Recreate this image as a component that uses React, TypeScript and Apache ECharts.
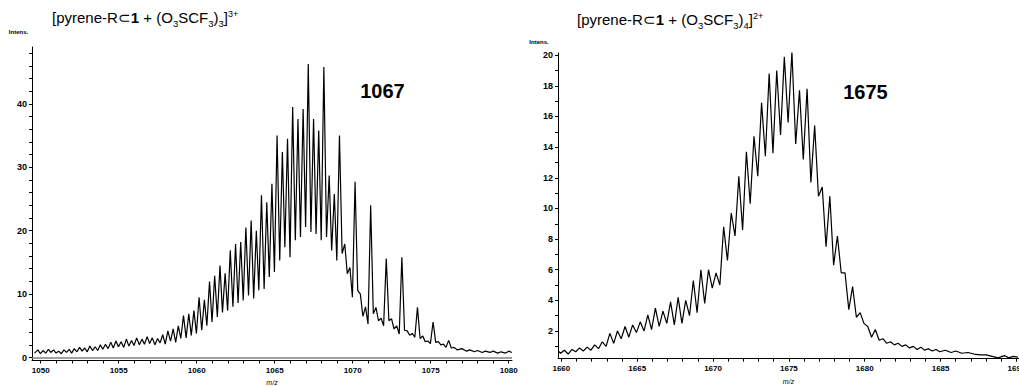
import React, { useEffect, useRef } from 'react';
import * as echarts from 'echarts';

// [m/z, intensity] (3+ ion)
const leftSpectrum: [number, number][] = [
  [1049.6, 0.7], [1049.82, 1.2], [1049.98, 0.6], [1050.15, 1.1], [1050.32, 0.7], [1050.49, 1.3], [1050.65, 0.8],
  [1050.82, 1.2], [1050.98, 0.7], [1051.15, 1.0], [1051.32, 0.6], [1051.49, 1.2], [1051.65, 0.8], [1051.82, 1.3],
  [1051.98, 0.7], [1052.15, 1.4], [1052.32, 0.9], [1052.49, 1.6], [1052.65, 1.0], [1052.82, 1.5], [1052.98, 0.9],
  [1053.15, 1.8], [1053.32, 1.1], [1053.49, 1.7], [1053.65, 1.1], [1053.82, 2.0], [1053.98, 1.3], [1054.15, 2.1],
  [1054.32, 1.4], [1054.49, 2.4], [1054.65, 1.5], [1054.82, 2.6], [1054.98, 1.7], [1055.15, 2.5], [1055.32, 1.6],
  [1055.49, 2.9], [1055.65, 1.8], [1055.82, 2.7], [1055.98, 1.9], [1056.15, 3.1], [1056.32, 2.0], [1056.49, 2.9],
  [1056.65, 2.1], [1056.82, 3.3], [1056.98, 2.2], [1057.15, 3.1], [1057.32, 2.0], [1057.49, 3.0], [1057.65, 2.3],
  [1057.82, 3.6], [1057.98, 2.1], [1058.15, 4.2], [1058.32, 2.6], [1058.49, 4.5], [1058.65, 2.4], [1058.82, 5.0],
  [1058.98, 3.0], [1059.15, 6.6], [1059.32, 3.1], [1059.49, 6.9], [1059.65, 3.5], [1059.82, 7.4], [1059.98, 3.8],
  [1060.15, 9.5], [1060.32, 4.3], [1060.49, 9.1], [1060.65, 5.0], [1060.82, 12.0], [1060.98, 5.6], [1061.15, 12.9],
  [1061.32, 6.4], [1061.49, 14.5], [1061.65, 7.1], [1061.82, 13.3], [1061.98, 7.4], [1062.15, 16.9], [1062.32, 8.0],
  [1062.49, 17.9], [1062.65, 8.6], [1062.82, 18.2], [1062.98, 9.0], [1063.15, 20.5], [1063.32, 9.8], [1063.49, 21.6],
  [1063.65, 9.3], [1063.82, 20.0], [1063.98, 10.6], [1064.15, 25.6], [1064.32, 10.8], [1064.49, 24.5], [1064.65, 12.7],
  [1064.82, 27.4], [1064.98, 13.5], [1065.15, 35.0], [1065.32, 15.3], [1065.49, 32.4], [1065.65, 17.4], [1065.82, 34.5],
  [1065.98, 15.8], [1066.15, 39.5], [1066.32, 18.5], [1066.49, 37.6], [1066.65, 19.0], [1066.82, 39.2], [1066.98, 20.6],
  [1067.15, 46.3], [1067.32, 19.8], [1067.49, 37.6], [1067.65, 19.5], [1067.82, 35.8], [1067.98, 18.5], [1068.15, 45.8],
  [1068.32, 19.0], [1068.49, 28.7], [1068.65, 16.9], [1068.82, 25.8], [1068.98, 15.3], [1069.15, 35.0], [1069.32, 16.4],
  [1069.49, 17.9], [1069.65, 13.2], [1069.82, 14.2], [1069.98, 9.5], [1070.15, 27.7], [1070.32, 10.6], [1070.49, 10.0],
  [1070.65, 6.5], [1070.82, 8.0], [1070.98, 5.3], [1071.15, 24.0], [1071.32, 6.9], [1071.49, 7.9], [1071.65, 5.8],
  [1071.82, 6.2], [1071.98, 5.0], [1072.15, 15.6], [1072.32, 5.8], [1072.49, 6.1], [1072.65, 4.5], [1072.82, 5.0],
  [1072.98, 3.7], [1073.15, 15.8], [1073.32, 4.3], [1073.49, 4.2], [1073.65, 3.5], [1073.82, 3.8], [1073.98, 3.2],
  [1074.15, 7.9], [1074.32, 3.0], [1074.49, 3.4], [1074.65, 2.5], [1074.82, 2.6], [1074.98, 2.2], [1075.15, 5.6],
  [1075.32, 2.4], [1075.49, 2.5], [1075.65, 2.0], [1075.82, 2.1], [1075.98, 1.6], [1076.15, 2.7], [1076.32, 1.5],
  [1076.5, 1.6], [1076.7, 1.2], [1077.0, 1.4], [1077.3, 1.0], [1077.5, 1.2], [1077.8, 0.9], [1078.0, 1.1],
  [1078.3, 0.8], [1078.5, 1.0], [1078.8, 0.8], [1079.0, 1.0], [1079.3, 0.7], [1079.5, 0.9], [1079.8, 0.7],
  [1080.0, 1.0], [1080.2, 0.8],
];

// [m/z, intensity] (2+ ion)
const rightSpectrum: [number, number][] = [
  [1659.8, 0.7], [1659.95, 0.55], [1660.2, 0.75], [1660.45, 0.5], [1660.7, 0.8], [1660.95, 0.65], [1661.2, 0.9],
  [1661.45, 0.7], [1661.7, 0.95], [1661.95, 0.75], [1662.2, 1.1], [1662.45, 0.85], [1662.7, 1.3], [1662.95, 1.0],
  [1663.2, 1.85], [1663.45, 1.2], [1663.7, 2.0], [1663.95, 1.5], [1664.2, 2.3], [1664.45, 1.6], [1664.7, 2.4],
  [1664.95, 1.9], [1665.2, 2.6], [1665.45, 2.0], [1665.7, 3.05], [1665.95, 2.1], [1666.2, 3.5], [1666.45, 2.3],
  [1666.7, 3.3], [1666.95, 2.5], [1667.2, 3.9], [1667.45, 2.4], [1667.7, 4.2], [1667.95, 2.5], [1668.2, 4.0],
  [1668.45, 3.0], [1668.7, 5.3], [1668.95, 3.2], [1669.2, 6.0], [1669.45, 3.8], [1669.7, 6.0], [1669.95, 4.8],
  [1670.2, 5.8], [1670.45, 5.0], [1670.7, 8.8], [1670.95, 6.6], [1671.2, 9.7], [1671.45, 8.2], [1671.7, 12.1],
  [1671.95, 8.6], [1672.2, 13.7], [1672.45, 10.3], [1672.7, 14.7], [1672.95, 12.1], [1673.2, 16.9], [1673.45, 13.4],
  [1673.7, 18.8], [1673.95, 13.6], [1674.2, 19.0], [1674.45, 14.8], [1674.7, 19.9], [1674.95, 15.6], [1675.2, 20.2],
  [1675.45, 14.2], [1675.7, 17.7], [1675.95, 13.2], [1676.2, 17.8], [1676.45, 11.7], [1676.7, 15.4], [1676.95, 10.8],
  [1677.2, 11.4], [1677.45, 7.5], [1677.7, 10.8], [1677.95, 6.3], [1678.2, 8.2], [1678.45, 5.8], [1678.7, 5.8],
  [1678.95, 3.4], [1679.2, 4.9], [1679.45, 2.9], [1679.7, 3.2], [1679.95, 2.5], [1680.2, 2.3], [1680.45, 1.6],
  [1680.7, 2.1], [1680.95, 1.4], [1681.2, 1.5], [1681.45, 1.2], [1681.7, 1.3], [1681.95, 1.1], [1682.2, 1.2],
  [1682.45, 1.0], [1682.7, 1.1], [1682.95, 0.9], [1683.2, 1.0], [1683.45, 0.8], [1683.7, 0.95], [1683.95, 0.75],
  [1684.2, 0.85], [1684.45, 0.7], [1684.7, 0.8], [1684.95, 0.65], [1685.3, 0.75], [1685.7, 0.6], [1686.0, 0.7],
  [1686.4, 0.55], [1686.8, 0.6], [1687.2, 0.5], [1687.6, 0.45], [1688.0, 0.45], [1688.4, 0.35], [1688.8, 0.25],
  [1689.2, 0.4], [1689.5, 0.25], [1689.8, 0.35], [1690.1, 0.3],
];

const leftXLabels = [1050, 1055, 1060, 1065, 1070, 1075, 1080];
const leftXTicks = [1050, 1051, 1052, 1053, 1054, 1055, 1056, 1057, 1058, 1059, 1060, 1061, 1062, 1063, 1064, 1065,
  1066, 1067, 1068, 1069, 1070, 1071, 1072, 1073, 1074, 1075, 1076, 1077, 1078, 1079, 1080];
const leftYLabels = [0, 10, 20, 30, 40];
const leftYTicks = [0, 2, 4, 6, 8, 10, 12, 14, 16, 18, 20, 22, 24, 26, 28, 30, 32, 34, 36, 38, 40, 42, 44, 46, 48];

const rightXLabels = [1660, 1665, 1670, 1675, 1680, 1685, 1690];
const rightXTicks = [1660, 1661, 1662, 1663, 1664, 1665, 1666, 1667, 1668, 1669, 1670, 1671, 1672, 1673, 1674, 1675,
  1676, 1677, 1678, 1679, 1680, 1681, 1682, 1683, 1684, 1685, 1686, 1687, 1688, 1689, 1690];
const rightYLabels = [2, 4, 6, 8, 10, 12, 14, 16, 18, 20];
const rightYTicks = [1, 2, 3, 4, 5, 6, 7, 8, 9, 10, 11, 12, 13, 14, 15, 16, 17, 18, 19, 20];

const leftTitle = '{m|[pyrene-R⊂}{b|1}{m| + (O}{s|3}{m|SCF}{s|3}{m|)}{s|3}{m|]}{p|3+}';
const rightTitle = '{m|[pyrene-R⊂}{b|1}{m| + (O}{s|3}{m|SCF}{s|3}{m|)}{s|4}{m|]}{p|2+}';
const leftPeakLabel = '1067';
const rightPeakLabel = '1675';

const FONT = '"Liberation Sans", Arial, Helvetica, sans-serif';

const rich = {
  m: { fontSize: 15, lineHeight: 22, color: '#000', fontFamily: FONT, fontWeight: 'normal', verticalAlign: 'middle' },
  b: { fontSize: 15, lineHeight: 22, color: '#000', fontFamily: FONT, fontWeight: 'bold', verticalAlign: 'middle' },
  s: { fontSize: 9.5, lineHeight: 13, color: '#000', fontFamily: FONT, fontWeight: 'normal', verticalAlign: 'bottom' },
  p: { fontSize: 9, lineHeight: 9, padding: [0, 0, 6, 0], color: '#000', fontFamily: FONT, fontWeight: 'normal', verticalAlign: 'middle' },
};

const fmt = (v: number) => String(v);

function xAxisDef(gridIndex: number, min: number, max: number, labels: number[], ticks: number[]) {
  return {
    type: 'value', gridIndex, min, max, position: 'bottom',
    axisLine: { show: true, onZero: false, lineStyle: { color: '#000', width: 1 } },
    axisTick: { show: true, customValues: ticks, length: 3, lineStyle: { color: '#000', width: 1 } },
    axisLabel: { customValues: labels, formatter: fmt, fontSize: 8, fontWeight: 'bold', color: '#000', margin: 6, fontFamily: FONT },
    splitLine: { show: false },
    name: 'm/z', nameLocation: 'middle', nameGap: 18,
    nameTextStyle: { fontStyle: 'italic', fontSize: 7, color: '#000', fontFamily: FONT, verticalAlign: 'top' },
  };
}

function yAxisDef(gridIndex: number, min: number, max: number, labels: number[], ticks: number[]) {
  return {
    type: 'value', gridIndex, min, max,
    axisLine: { show: true, onZero: false, lineStyle: { color: '#000', width: 1 } },
    axisTick: { show: true, customValues: ticks, length: 3, lineStyle: { color: '#000', width: 1 } },
    axisLabel: { customValues: labels, formatter: fmt, fontSize: 9, fontWeight: 'bold', color: '#000', margin: 5, fontFamily: FONT },
    splitLine: { show: false },
  };
}

export default function App() {
  const ref = useRef<HTMLDivElement>(null);
  useEffect(() => {
    if (!ref.current) return;
    const chart = echarts.init(ref.current, undefined, { renderer: 'svg' });
    chart.setOption({
      animation: false,
      backgroundColor: '#fff',
      title: [
        { text: leftTitle, left: 52, top: 6, padding: 0, textStyle: { rich } },
        { text: rightTitle, left: 577, top: 8, padding: 0, textStyle: { rich } },
      ],
      grid: [
        { left: 32, top: 47, width: 480, height: 313.5, outerBoundsMode: 'none', containLabel: false },
        { left: 558, top: 53, width: 461, height: 305.7, outerBoundsMode: 'none', containLabel: false },
      ],
      xAxis: [
        xAxisDef(0, 1049.44, 1080.21, leftXLabels, leftXTicks),
        xAxisDef(1, 1659.78, 1690.17, rightXLabels, rightXTicks),
      ],
      yAxis: [
        yAxisDef(0, -0.47, 48.97, leftYLabels, leftYTicks),
        yAxisDef(1, 0.196, 20.14, rightYLabels, rightYTicks),
      ],
      graphic: [
        { type: 'text', x: 18.5, y: 32, style: { text: 'Intens.', font: `bold 6px ${FONT}`, fill: '#000', align: 'center', verticalAlign: 'middle' } },
        { type: 'text', x: 539, y: 42, style: { text: 'Intens.', font: `bold 6px ${FONT}`, fill: '#000', align: 'center', verticalAlign: 'middle' } },
        { type: 'text', x: 382.5, y: 90.5, style: { text: leftPeakLabel, font: `bold 20px ${FONT}`, fill: '#000', align: 'center', verticalAlign: 'middle' } },
        { type: 'text', x: 865.5, y: 91.5, style: { text: rightPeakLabel, font: `bold 20px ${FONT}`, fill: '#000', align: 'center', verticalAlign: 'middle' } },
      ],
      series: [
        {
          type: 'line', xAxisIndex: 0, yAxisIndex: 0, data: leftSpectrum,
          showSymbol: false, lineStyle: { color: '#000', width: 1.2 }, silent: true,
          markLine: {
            silent: true, symbol: 'none', label: { show: false },
            lineStyle: { color: '#808080', width: 1.5, type: 'solid' },
            data: [{ yAxis: 0 }],
          },
        },
        {
          type: 'line', xAxisIndex: 1, yAxisIndex: 1, data: rightSpectrum,
          showSymbol: false, lineStyle: { color: '#000', width: 1.2 }, silent: true,
        },
      ],
    });
    return () => chart.dispose();
  }, []);
  return (
    <div
      ref={ref}
      style={{ position: 'absolute', left: 0, top: 0, width: 1019, height: 386, background: '#fff' }}
    />
  );
}
